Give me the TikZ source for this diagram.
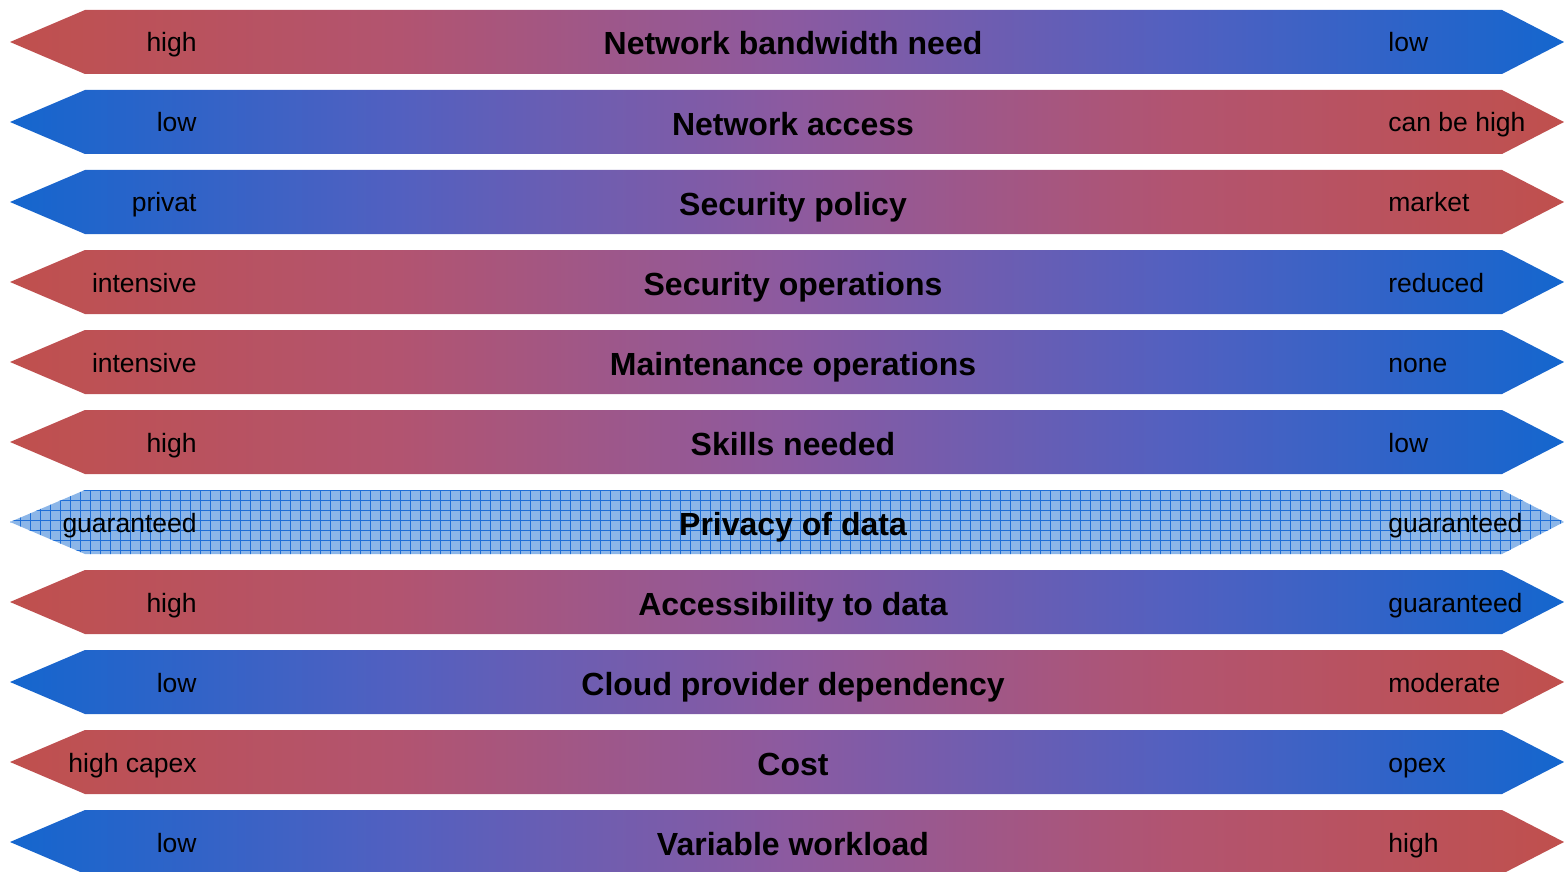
\documentclass[tikz,border=0pt]{standalone}
\usepackage{fontspec}
\setmainfont{Liberation Sans}

\definecolor{cred}{RGB}{192,80,77}
\definecolor{cpink}{RGB}{178,84,112}
\definecolor{cpurple}{RGB}{140,90,160}
\definecolor{cviolet}{RGB}{82,96,192}
\definecolor{cblue}{RGB}{20,102,206}
\definecolor{cgrid}{RGB}{30,110,215}
\definecolor{cpale}{RGB}{140,182,232}

\pgfdeclarehorizontalshading{redblue}{100bp}{color(0bp)=(cred); color(25bp)=(cred); color(37.5bp)=(cpink); color(50bp)=(cpurple); color(62.5bp)=(cviolet); color(75bp)=(cblue); color(100bp)=(cblue)}
\pgfdeclarehorizontalshading{bluered}{100bp}{color(0bp)=(cblue); color(25bp)=(cblue); color(37.5bp)=(cviolet); color(50bp)=(cpurple); color(62.5bp)=(cpink); color(75bp)=(cred); color(100bp)=(cred)}

\begin{document}
\begin{tikzpicture}[x=0.5pt,y=-0.5pt,
  title/.style={inner sep=0pt,anchor=base,font=\fontsize{16}{19}\selectfont\bfseries},
  left label/.style={inner sep=0pt,anchor=base east,font=\fontsize{13.25}{16}\selectfont},
  right label/.style={inner sep=0pt,anchor=base west,font=\fontsize{13.25}{16}\selectfont}]

    \useasboundingbox (0,0) rectangle (1564,872);

    % shaded bands
    \foreach \i/\sh/\l/\t/\r [evaluate=\i as \y using 42+80*\i] in {
        0/redblue/high/Network bandwidth need/low,
        1/bluered/low/Network access/can be high,
        2/bluered/privat/Security policy/market,
        3/redblue/intensive/Security operations/reduced,
        4/redblue/intensive/Maintenance operations/none,
        5/redblue/high/Skills needed/low,
        7/redblue/high/Accessibility to data/guaranteed,
        8/bluered/low/Cloud provider dependency/moderate,
        9/redblue/high capex/Cost/opex,
        10/bluered/low/Variable workload/high}
    {
        \shade[shading=\sh] (10,\y) -- (85,\y-32) -- (1502,\y-32) -- (1564,\y) -- (1502,\y+32) -- (85,\y+32) -- cycle;
        \node[left label] (l\i) at (197,\y+10) {\l};
        \node[title] (t\i) at (793,\y+13) {\t};
        \node[right label] (r\i) at (1388,\y+10) {\r};
    }

    % privacy band
    \begin{scope}
        \clip (10,522) -- (85,490) -- (1502,490) -- (1564,522) -- (1502,554) -- (85,554) -- cycle;
        \fill[cpale] (0,480) rectangle (1564,564);
        \draw[cgrid,line width=0.5pt,step=5pt] (0,480) grid (1564,564);
    \end{scope}
    \node[left label] (l6) at (197,532) {guaranteed};
    \node[title] (t6) at (793,535) {Privacy of data};
    \node[right label] (r6) at (1388,532) {guaranteed};

\end{tikzpicture}
\end{document}
